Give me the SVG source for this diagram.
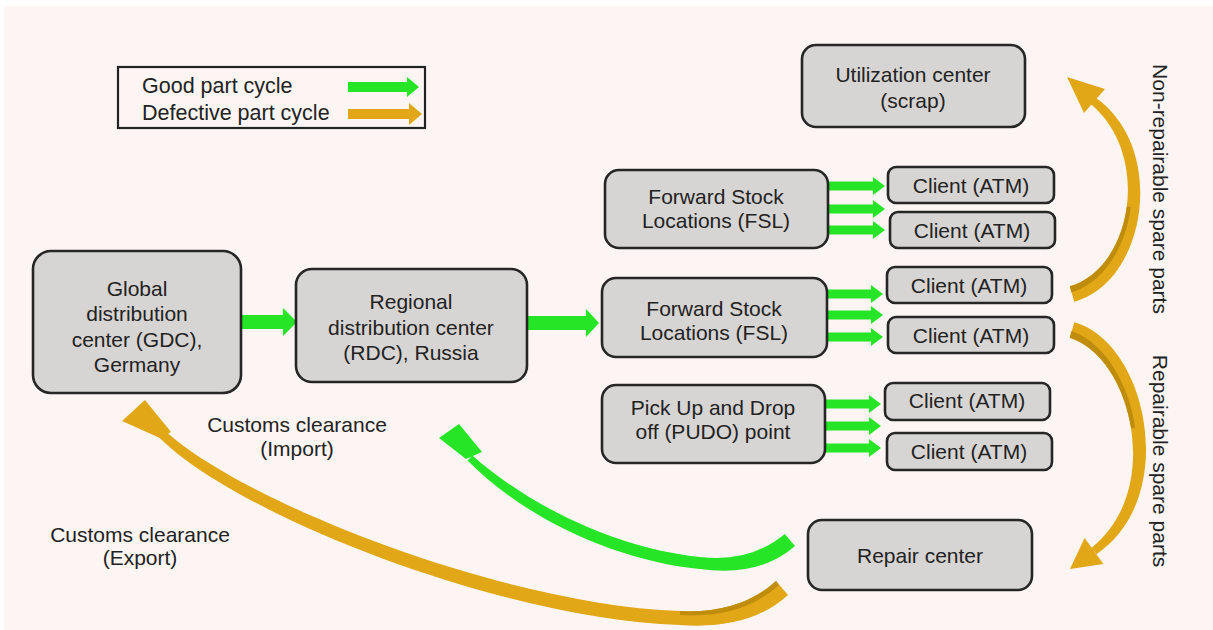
<svg xmlns="http://www.w3.org/2000/svg" width="1213" height="630" viewBox="0 0 1213 630">
  <defs>
    <style>
      .bg{fill:#fdf5f3}
      .box{fill:#d7d5d3;stroke:#262626;stroke-width:2.6}
      .t{font-family:"Liberation Sans",Arial,sans-serif;font-size:21px;fill:#222;text-anchor:middle}
      .lg{font-family:"Liberation Sans",Arial,sans-serif;font-size:21.5px;fill:#222}
      .good{fill:#26e426}
      .bad{fill:#e1a716}
      .badd{fill:#c08c0c}
    </style>
    <!-- short straight arrow, origin at the tail centre, 57 px long -->
    <path id="sa" d="M0 -4.5 H45 V-9 L57 0 L45 9 V4.5 H0 Z"/>
  </defs>

  <rect x="0" y="0" width="1213" height="630" fill="#ffffff"/>
  <rect class="bg" x="4" y="6" width="1209" height="624"/>

  <!-- legend -->
  <g id="legend">
    <rect x="118" y="67" width="307" height="61" fill="none" stroke="#222" stroke-width="2.2"/>
    <text class="lg" x="142" y="93">Good part cycle</text>
    <text class="lg" x="142" y="120">Defective part cycle</text>
    <path class="good" d="M348 82 H407 V77 L419 87 L407 97 V92 H348 Z"/>
    <path class="bad" d="M348 109 H409 V103 L422 114 L409 125 V119 H348 Z"/>
  </g>

  <!-- connectors -->
  <g id="connectors">
    <path class="good" d="M241 315 H283 V308 L297 322 L283 336 V329 H241 Z"/>
    <path class="good" d="M527 316 H586 V309 L599 323 L586 337 V330 H527 Z"/>

    <use href="#sa" class="good" x="828" y="186"/>
    <use href="#sa" class="good" x="828" y="209"/>
    <use href="#sa" class="good" x="828" y="230"/>

    <use href="#sa" class="good" x="826" y="294"/>
    <use href="#sa" class="good" x="826" y="315"/>
    <use href="#sa" class="good" x="826" y="337"/>

    <use href="#sa" class="good" x="824" y="404"/>
    <use href="#sa" class="good" x="824" y="426"/>
    <use href="#sa" class="good" x="824" y="448"/>

    <!-- repair center back to RDC -->
    <path class="good" d="M795 546 Q760 577 700 569 C618 561 526 520 467.6 460.5 L472.4 455.5 C534 510 622 549 700 557 Q750 563 784.8 534 Z"/>
    <polygon class="good" points="439,438 459,424 482,452 466,459"/>

    <!-- repair center back to GDC -->
    <path class="bad" d="M788 595 Q750 630 680 625 C498 619 226 511 155 433 L161 427 C234 499 502 605 680 611 Q740 614 776 581 Z"/>
    <path class="badd" d="M680 611 Q740 614 776 581 L779 585 Q742 619 680 615 Z"/>
    <polygon class="bad" points="122,421 145,400 171,432 160,438"/>

    <!-- non-repairable: clients to utilization center -->
    <path class="bad" d="M1074.2 301.7 C1147 282 1168 147 1094.4 96.8 L1089.6 103.2 C1152 153 1133 268 1069.8 286.3 Z"/>
    <path class="badd" d="M1069.8 286.3 C1101.4 277.15 1121.95 243.8 1126.8 206.6 L1130.8 207 C1126 246 1104 283 1071.5 292.5 Z"/>
    <polygon class="bad" points="1067,77 1084,113 1105,89"/>

    <!-- repairable: clients to repair center -->
    <path class="bad" d="M1074.3 322.3 C1148 343 1180 498 1096.4 554.2 L1091.6 547.8 C1164 490 1132 357 1069.7 337.7 Z"/>
    <path class="badd" d="M1069.7 337.7 C1100.85 347.35 1124.4 385.4 1131.2 428.3 L1135.2 427.8 C1129 383 1104 342 1071.5 331 Z"/>
    <polygon class="bad" points="1070,569 1084.6,538 1103.4,564"/>
  </g>

  <!-- nodes -->
  <g id="gdc">
    <rect class="box" x="33" y="251" width="208" height="142" rx="18"/>
    <text class="t" x="137" y="296">Global</text>
    <text class="t" x="137" y="321">distribution</text>
    <text class="t" x="137" y="347">center (GDC),</text>
    <text class="t" x="137" y="372">Germany</text>
  </g>
  <g id="rdc">
    <rect class="box" x="296" y="269" width="231" height="113" rx="16"/>
    <text class="t" x="411" y="309">Regional</text>
    <text class="t" x="411" y="335">distribution center</text>
    <text class="t" x="411" y="360">(RDC), Russia</text>
  </g>
  <g id="utilization">
    <rect class="box" x="802" y="45" width="223" height="82" rx="14"/>
    <text class="t" x="913" y="82">Utilization center</text>
    <text class="t" x="913" y="108">(scrap)</text>
  </g>
  <g id="fsl1">
    <rect class="box" x="605" y="170" width="223" height="78" rx="14"/>
    <text class="t" x="716" y="204">Forward Stock</text>
    <text class="t" x="716" y="228">Locations (FSL)</text>
  </g>
  <g id="fsl2">
    <rect class="box" x="602" y="278" width="225" height="79" rx="14"/>
    <text class="t" x="714" y="316">Forward Stock</text>
    <text class="t" x="714" y="340">Locations (FSL)</text>
  </g>
  <g id="pudo">
    <rect class="box" x="602" y="385" width="223" height="78" rx="14"/>
    <text class="t" x="713" y="415">Pick Up and Drop</text>
    <text class="t" x="713" y="439">off (PUDO) point</text>
  </g>
  <g id="client1">
    <rect class="box" x="888" y="167" width="166" height="36" rx="8"/>
    <text class="t" x="971" y="193">Client (ATM)</text>
  </g>
  <g id="client2">
    <rect class="box" x="890" y="212" width="165" height="36" rx="8"/>
    <text class="t" x="972" y="238">Client (ATM)</text>
  </g>
  <g id="client3">
    <rect class="box" x="887" y="267" width="165" height="36" rx="8"/>
    <text class="t" x="969" y="293">Client (ATM)</text>
  </g>
  <g id="client4">
    <rect class="box" x="888" y="317" width="166" height="36" rx="8"/>
    <text class="t" x="971" y="343">Client (ATM)</text>
  </g>
  <g id="client5">
    <rect class="box" x="885" y="383" width="165" height="37" rx="8"/>
    <text class="t" x="967" y="408">Client (ATM)</text>
  </g>
  <g id="client6">
    <rect class="box" x="887" y="433" width="165" height="37" rx="8"/>
    <text class="t" x="969" y="459">Client (ATM)</text>
  </g>
  <g id="repair">
    <rect class="box" x="808" y="520" width="224" height="70" rx="14"/>
    <text class="t" x="920" y="563">Repair center</text>
  </g>

  <!-- free labels -->
  <g id="labels">
    <text class="t" x="297" y="432">Customs clearance</text>
    <text class="t" x="297" y="456">(Import)</text>
    <text class="t" x="140" y="542">Customs clearance</text>
    <text class="t" x="140" y="565">(Export)</text>
    <text class="t" transform="translate(1153 189) rotate(90)">Non-repairable spare parts</text>
    <text class="t" transform="translate(1153 461) rotate(90)">Repairable spare parts</text>
  </g>
</svg>
